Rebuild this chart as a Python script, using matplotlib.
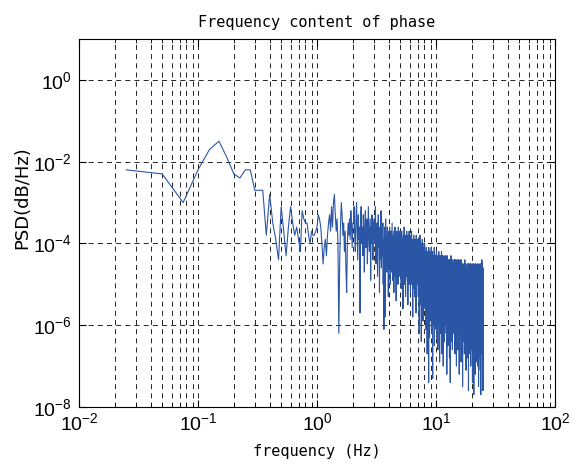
import numpy as np
import matplotlib
matplotlib.use('Agg')
import matplotlib.pyplot as plt
from matplotlib.ticker import LogLocator, NullLocator

# 周波数分解能 0.025 Hz, 0.025 .. 25 Hz
df = 0.025

# PSD の指数 (log10 の -10 倍, 1 行 = 1 Hz 分 = 40 点)
psd_exp_tenths = [
    22, 23, 30, 22, 17, 15, 19, 23, 24, 22, 22, 27, 27, 27, 38, 28, 35, 39, 44, 31,
    37, 43, 36, 31, 35, 38, 36, 39, 42, 32, 34, 35, 35, 38, 40, 37, 38, 38, 37, 36,
    33, 34, 36, 40, 45, 41, 39, 43, 38, 35, 33, 37, 31, 36, 30, 28, 33, 37, 34, 40,
    62, 45, 36, 30, 33, 38, 35, 42, 37, 46, 52, 40, 35, 38, 34, 39, 32, 36, 41, 35,
    35, 31, 38, 42, 34, 30, 37, 44, 33, 39, 36, 57, 34, 31, 40, 36, 43, 33, 38, 47,
    35, 32, 41, 37, 34, 45, 39, 31, 36, 42, 38, 34, 49, 36, 40, 33, 37, 44, 35, 39,
    34, 40, 36, 31, 45, 38, 42, 35, 48, 37, 33, 41, 39, 52, 36, 44, 38, 32, 46, 40,
    37, 43, 35, 50, 39, 61, 42, 36, 58, 40, 34, 45, 38, 47, 41, 36, 44, 39, 53, 37,
    38, 45, 36, 42, 50, 39, 44, 37, 47, 41, 35, 43, 49, 38, 46, 40, 52, 37, 44, 41,
    36, 48, 39, 45, 54, 40, 37, 43, 47, 38, 42, 50, 36, 45, 39, 44, 41, 48, 37, 43,
    40, 46, 38, 51, 42, 37, 45, 49, 39, 43, 56, 41, 38, 47, 44, 36, 50, 42, 39, 46,
    41, 53, 38, 44, 48, 40, 37, 45, 42, 49, 39, 55, 43, 38, 46, 41, 50, 37, 44, 42,
    39, 47, 43, 52, 38, 45, 41, 49, 37, 44, 50, 42, 46, 39, 58, 43, 40, 48, 45, 38,
    51, 42, 47, 40, 44, 53, 39, 46, 41, 49, 43, 57, 38, 45, 42, 50, 40, 47, 44, 39,
    42, 48, 40, 53, 45, 39, 47, 44, 62, 41, 46, 50, 43, 38, 49, 45, 55, 42, 47, 40,
    64, 44, 48, 41, 52, 46, 39, 50, 43, 47, 59, 42, 45, 49, 41, 54, 44, 40, 48, 46,
    40, 49, 44, 56, 42, 51, 46, 61, 43, 48, 53, 41, 58, 45, 50, 44, 67, 47, 42, 54,
    49, 45, 60, 43, 52, 47, 74, 41, 50, 46, 55, 44, 63, 48, 42, 57, 45, 51, 47, 53,
    43, 50, 46, 59, 41, 53, 48, 45, 62, 44, 51, 47, 56, 42, 73, 49, 45, 54, 48, 43,
    60, 46, 52, 44, 57, 50, 41, 65, 47, 53, 45, 49, 58, 43, 51, 46, 55, 48, 44, 61,
    45, 52, 42, 57, 48, 44, 63, 50, 46, 54, 43, 59, 49, 45, 66, 47, 53, 44, 51, 48,
    56, 42, 60, 46, 50, 47, 55, 44, 69, 49, 52, 45, 58, 43, 50, 47, 62, 45, 53, 48,
    44, 55, 48, 51, 42, 67, 49, 46, 58, 45, 53, 47, 61, 43, 50, 56, 46, 52, 44, 70,
    48, 54, 45, 59, 47, 51, 43, 57, 49, 64, 45, 52, 48, 55, 46, 60, 44, 50, 47, 58,
    46, 53, 43, 59, 49, 45, 62, 48, 52, 44, 57, 47, 72, 45, 51, 55, 43, 60, 48, 46,
    54, 50, 65, 44, 52, 47, 58, 45, 50, 56, 46, 63, 48, 53, 44, 59, 47, 51, 68, 45,
    47, 55, 44, 58, 50, 46, 74, 49, 53, 45, 61, 48, 52, 43, 57, 46, 64, 50, 44, 56,
    48, 53, 60, 45, 51, 47, 59, 44, 66, 49, 54, 46, 52, 57, 45, 62, 48, 50, 55, 46,
    45, 56, 48, 52, 60, 46, 53, 44, 58, 50, 47, 63, 45, 55, 49, 51, 44, 67, 48, 54,
    46, 59, 50, 45, 57, 52, 47, 61, 44, 53, 49, 56, 46, 70, 48, 52, 45, 58, 50, 47,
    46, 57, 49, 53, 44, 61, 50, 47, 58, 45, 54, 66, 48, 52, 46, 59, 51, 44, 63, 49,
    55, 47, 60, 45, 53, 50, 72, 46, 57, 48, 54, 45, 62, 50, 47, 56, 44, 59, 51, 48,
    47, 58, 50, 54, 45, 62, 48, 56, 46, 69, 51, 53, 44, 60, 49, 57, 46, 52, 64, 48,
    55, 45, 59, 50, 47, 61, 53, 46, 75, 49, 56, 45, 58, 51, 47, 63, 48, 54, 46, 57,
    46, 59, 51, 55, 47, 64, 49, 57, 45, 61, 52, 48, 67, 46, 56, 50, 54, 44, 62, 49,
    58, 47, 53, 60, 45, 66, 51, 48, 57, 46, 63, 50, 55, 47, 71, 49, 59, 46, 54, 52,
    48, 60, 46, 56, 51, 65, 47, 58, 49, 53, 45, 62, 50, 57, 46, 68, 52, 48, 59, 45,
    55, 61, 47, 54, 50, 64, 46, 57, 49, 76, 48, 56, 45, 60, 51, 53, 47, 63, 49, 58,
    47, 61, 50, 56, 46, 64, 52, 58, 45, 60, 49, 55, 67, 47, 53, 48, 62, 45, 57, 51,
    59, 46, 70, 49, 54, 47, 63, 50, 56, 45, 61, 52, 48, 66, 46, 58, 50, 55, 47, 62,
    48, 62, 51, 57, 46, 65, 50, 59, 47, 74, 52, 55, 45, 63, 49, 58, 46, 61, 53, 48,
    68, 47, 56, 50, 60, 45, 64, 51, 57, 48, 77, 49, 55, 46, 62, 52, 59, 47, 66, 50,
    47, 63, 52, 58, 46, 67, 50, 60, 48, 55, 45, 64, 51, 57, 49, 72, 46, 61, 53, 48,
    59, 45, 65, 50, 56, 47, 62, 52, 58, 46, 69, 49, 55, 48, 63, 51, 60, 46, 57, 50,
    49, 62, 47, 58, 52, 66, 48, 60, 45, 64, 51, 56, 47, 70, 50, 59, 46, 63, 53, 48,
    61, 45, 57, 50, 67, 47, 55, 52, 62, 46, 75, 49, 58, 51, 64, 47, 56, 49, 60, 46,
    48, 64, 51, 59, 46, 62, 50, 57, 47, 68, 53, 55, 45, 63, 49, 60, 47, 66, 51, 56,
    48, 71, 46, 58, 52, 62, 45, 65, 50, 57, 48, 77, 47, 59, 53, 61, 46, 63, 50, 56,
    47, 61, 52, 58, 46, 65, 49, 60, 47, 56, 44, 63, 51, 59, 48, 67, 46, 57, 52, 62,
    45, 60, 50, 69, 47, 58, 53, 61, 46, 64, 49, 76, 48, 57, 51, 62, 46, 59, 50, 55,
]

freq = df * np.arange(1, len(psd_exp_tenths) + 1)
psd = 10.0 ** (-np.array(psd_exp_tenths) / 10.0)

plt.rcParams['font.family'] = ['Liberation Sans', 'DejaVu Sans']
plt.rcParams['mathtext.fontset'] = 'custom'
plt.rcParams['mathtext.rm'] = 'Liberation Sans'
plt.rcParams['mathtext.it'] = 'Liberation Sans'

fig = plt.figure(figsize=(5.76, 4.65), dpi=100)
ax = fig.add_axes([79 / 576, 58 / 465, 476 / 576, 368 / 465])

ax.loglog(freq, psd, color='#2b56a6', linewidth=0.8)

ax.set_xlim(1e-2, 1e2)
ax.set_ylim(1e-8, 1e1)
ax.xaxis.set_major_locator(LogLocator(base=10, numticks=10))
ax.xaxis.set_minor_locator(LogLocator(base=10, subs=np.arange(2, 10), numticks=10))
ax.yaxis.set_major_locator(LogLocator(base=100, numticks=10))
ax.yaxis.set_minor_locator(NullLocator())

ax.grid(True, which='both', axis='x', color='black', linestyle=(0, (6, 5)), linewidth=0.6)
ax.grid(True, which='major', axis='y', color='black', linestyle=(0, (6, 5)), linewidth=0.6)

ax.tick_params(which='both', direction='in', top=True, right=True, labelsize=14)
ax.tick_params(which='major', length=5)
ax.tick_params(which='minor', length=3)
ax.tick_params(axis='x', pad=4)
ax.tick_params(axis='y', pad=5)

mono = ['DejaVu Sans Mono', 'DejaVu Sans']
ax.set_title('Frequency content of phase', fontsize=11, family=mono, pad=9)
ax.set_xlabel('frequency (Hz)', fontsize=11, family=mono)
ax.xaxis.set_label_coords(0.5, -0.1)
ax.set_ylabel('PSD(dB/Hz)', fontsize=13, family=['DejaVu Sans'])
ax.yaxis.set_label_coords(-0.1, 0.57)

fig.savefig('out.png', dpi=100)
